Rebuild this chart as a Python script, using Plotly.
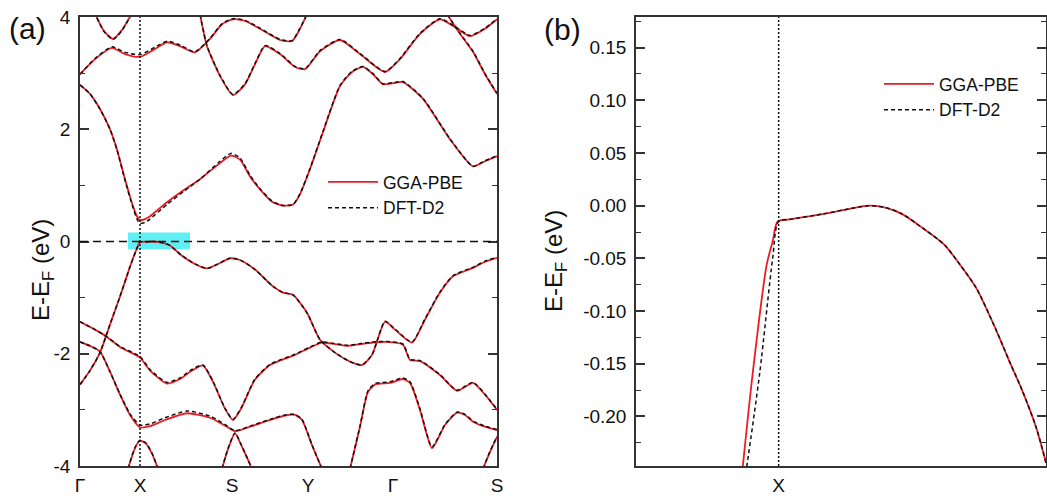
import plotly.graph_objects as go

W, H = 1047, 497

# ---------------- Panel (a): high-symmetry path ----------------
kpath_labels = ["Γ", "X", "S", "Y", "Γ", "S"]
kpath_pos = [0, 60, 152, 228, 313, 417]

yticks_a = [-4, -2, 0, 2, 4]
yticklabels_a = ["-4", "-2", "0", "2", "4"]

# highlighted window around the VBM (zoomed in panel b)
highlight_k = [48, 110]
highlight_E = [-0.14, 0.16]

# conduction bands (k along path, energies in eV)
k_c1 = [14, 24, 33, 42, 53]
pbe_c1 = [4.10, 3.75, 3.61, 3.77, 4.10]
d2_c1 = [4.10, 3.74, 3.60, 3.76, 4.10]

k_c2 = [0, 15, 32, 45, 60, 75, 87, 100, 115, 130, 142, 153, 165, 180, 200, 212, 220, 227]
pbe_c2 = [2.98, 3.25, 3.45, 3.34, 3.29, 3.43, 3.55, 3.48, 3.37, 3.61, 3.87, 3.96, 3.93, 3.79, 3.59, 3.57, 3.79, 4.05]
d2_c2 = [2.98, 3.26, 3.47, 3.37, 3.33, 3.46, 3.57, 3.50, 3.38, 3.62, 3.88, 3.97, 3.94, 3.80, 3.60, 3.58, 3.80, 4.05]

k_c3 = [120, 127, 140, 153, 165, 175, 185, 200, 215, 225, 240, 260, 280, 305, 320, 340, 360, 375, 390, 405, 417]
pbe_c3 = [4.05, 3.48, 2.95, 2.61, 2.80, 3.16, 3.48, 3.34, 3.11, 3.07, 3.39, 3.59, 3.34, 3.02, 3.25, 3.70, 3.96, 3.82, 3.66, 3.79, 3.96]
d2_c3 = [4.05, 3.49, 2.96, 2.62, 2.81, 3.17, 3.49, 3.35, 3.12, 3.08, 3.40, 3.60, 3.35, 3.03, 3.26, 3.71, 3.97, 3.83, 3.67, 3.80, 3.97]

k_c4 = [367, 380, 393, 405, 417]
pbe_c4 = [4.05, 3.70, 3.38, 2.98, 2.63]
d2_c4 = [4.05, 3.71, 3.39, 2.99, 2.64]

k_c5 = [0, 10, 20, 30, 37, 45, 53, 57, 60, 65, 70, 87, 105, 120, 140, 151, 160, 170, 180, 192, 203, 213,
        220, 230, 243, 260, 272, 283, 293, 303, 313, 323, 343, 370, 393, 405, 417]
pbe_c5 = [2.79, 2.63, 2.36, 2.00, 1.64, 1.11, 0.63, 0.45, 0.38, 0.40, 0.45, 0.70, 0.93, 1.11, 1.40, 1.53, 1.46, 1.16, 0.93, 0.71, 0.64, 0.66,
          0.84, 1.29, 1.95, 2.77, 3.02, 3.11, 2.98, 2.80, 2.82, 2.84, 2.54, 1.82, 1.34, 1.43, 1.52]
d2_c5 = [2.79, 2.63, 2.36, 2.00, 1.63, 1.09, 0.60, 0.40, 0.32, 0.34, 0.40, 0.66, 0.91, 1.11, 1.43, 1.57, 1.49, 1.18, 0.94, 0.72, 0.64, 0.66,
         0.85, 1.30, 1.96, 2.78, 3.03, 3.12, 2.99, 2.81, 2.83, 2.85, 2.55, 1.83, 1.34, 1.44, 1.53]

# valence bands
k_v1 = [0, 10, 20, 30, 40, 50, 56, 60, 67, 74, 83, 90, 101, 115, 127, 138, 150, 160, 175, 193, 203, 213,
        227, 240, 255, 270, 282, 292, 305, 315, 332, 345, 360, 373, 393, 405, 417]
pbe_v1 = [-2.55, -2.30, -1.98, -1.48, -0.98, -0.45, -0.16, -0.01, -0.005, 0.0, -0.025, -0.07, -0.24, -0.40, -0.48, -0.40, -0.30, -0.33, -0.50, -0.80, -0.91, -0.95,
          -1.27, -1.75, -1.98, -2.14, -2.20, -2.02, -1.43, -1.57, -1.80, -1.39, -0.91, -0.62, -0.47, -0.36, -0.29]
d2_v1 = [-2.55, -2.30, -1.98, -1.48, -0.98, -0.45, -0.17, -0.01, -0.005, 0.0, -0.025, -0.07, -0.24, -0.40, -0.48, -0.40, -0.30, -0.33, -0.50, -0.80, -0.91, -0.95,
         -1.27, -1.75, -1.98, -2.14, -2.20, -2.02, -1.42, -1.56, -1.79, -1.38, -0.90, -0.61, -0.46, -0.35, -0.28]

k_v2 = [0, 15, 27, 40, 60, 70, 87, 100, 112, 123, 133, 145, 153, 161, 175, 190, 215, 230, 242, 255, 268, 280, 293,
        307, 323, 330, 340, 360, 377, 393, 405, 417]
pbe_v2 = [-1.43, -1.57, -1.70, -1.88, -2.07, -2.30, -2.53, -2.45, -2.30, -2.21, -2.50, -2.98, -3.18, -2.98, -2.46, -2.20, -2.02, -1.89,
          -1.80, -1.83, -1.86, -1.83, -1.80, -1.79, -1.84, -2.11, -2.13, -2.38, -2.66, -2.52, -2.73, -3.00]
d2_v2 = [-1.43, -1.57, -1.70, -1.87, -2.05, -2.28, -2.51, -2.43, -2.28, -2.20, -2.49, -2.97, -3.17, -2.97, -2.45, -2.19, -2.01, -1.88,
         -1.79, -1.82, -1.85, -1.82, -1.79, -1.78, -1.83, -2.10, -2.12, -2.37, -2.65, -2.51, -2.72, -2.99]

k_v3 = [0, 10, 20, 30, 40, 50, 60, 70, 85, 107, 130, 145, 155, 170, 190, 205, 215, 222, 232, 242]
pbe_v3 = [-1.79, -1.86, -1.96, -2.32, -2.73, -3.09, -3.31, -3.29, -3.18, -3.06, -3.14, -3.28, -3.38, -3.30, -3.18, -3.10, -3.09, -3.18, -3.63, -4.05]
d2_v3 = [-1.79, -1.86, -1.96, -2.32, -2.72, -3.07, -3.27, -3.25, -3.14, -3.02, -3.11, -3.26, -3.37, -3.29, -3.17, -3.09, -3.08, -3.17, -3.62, -4.05]

k_v4 = [48, 55, 60, 66, 72, 78]
pbe_v4 = [-4.05, -3.68, -3.55, -3.60, -3.78, -4.05]
d2_v4 = [-4.05, -3.67, -3.54, -3.59, -3.77, -4.05]

k_v5 = [142, 148, 155, 161, 172]
pbe_v5 = [-4.05, -3.70, -3.42, -3.62, -4.05]
d2_v5 = [-4.05, -3.69, -3.41, -3.61, -4.05]

k_v6 = [270, 280, 288, 295, 310, 323, 330, 340, 352, 365, 377, 385, 393, 405, 417]
pbe_v6 = [-4.05, -3.30, -2.68, -2.55, -2.52, -2.45, -2.52, -3.00, -3.68, -3.27, -3.05, -3.09, -3.21, -3.30, -3.36]
d2_v6 = [-4.05, -3.29, -2.66, -2.53, -2.50, -2.43, -2.50, -2.98, -3.66, -3.26, -3.04, -3.08, -3.20, -3.29, -3.35]

k_v7 = [403, 410, 417]
pbe_v7 = [-4.05, -3.75, -3.48]
d2_v7 = [-4.05, -3.74, -3.47]

# ---------------- Panel (b): zoom around X ----------------
kb_X = 143
kb_range = [0, 411]
yticks_b = [-0.20, -0.15, -0.10, -0.05, 0.00, 0.05, 0.10, 0.15]
yticklabels_b = ["-0.20", "-0.15", "-0.10", "-0.05", "0.00", "0.05", "0.10", "0.15"]

kb_pbe = [107, 117, 131, 137, 142, 154, 187, 214, 234, 251, 267, 287, 309, 324, 341, 361, 374, 387, 401, 411]
eb_pbe = [-0.248, -0.159, -0.056, -0.034, -0.015, -0.013, -0.008, -0.003, 0.0, -0.002, -0.008, -0.021,
          -0.037, -0.055, -0.078, -0.118, -0.147, -0.175, -0.210, -0.244]
kb_d2 = [111, 124, 137, 143, 154, 187, 214, 234, 251, 267, 287, 309, 324, 341, 361, 374, 387, 401, 411]
eb_d2 = [-0.248, -0.159, -0.050, -0.015, -0.013, -0.008, -0.003, 0.0, -0.002, -0.008, -0.021,
         -0.037, -0.055, -0.078, -0.118, -0.147, -0.175, -0.210, -0.244]

bands_a = [
    (k_c1, pbe_c1, d2_c1), (k_c2, pbe_c2, d2_c2), (k_c3, pbe_c3, d2_c3), (k_c4, pbe_c4, d2_c4),
    (k_c5, pbe_c5, d2_c5), (k_v1, pbe_v1, d2_v1), (k_v2, pbe_v2, d2_v2), (k_v3, pbe_v3, d2_v3),
    (k_v4, pbe_v4, d2_v4), (k_v5, pbe_v5, d2_v5), (k_v6, pbe_v6, d2_v6), (k_v7, pbe_v7, d2_v7),
]


def joined(bands, which):
    xs, ys = [], []
    for b in bands:
        xs += list(b[0]) + [None]
        ys += list(b[which]) + [None]
    return xs, ys


FONT = "Arial, 'Liberation Sans', sans-serif"
RED = "#ec1c24"
BLK = "#111111"
AX = "#333333"

fig = go.Figure()

xa, ya_pbe = joined(bands_a, 1)
_, ya_d2 = joined(bands_a, 2)

fig.add_trace(go.Scatter(x=xa, y=ya_pbe, mode="lines", name="GGA-PBE", legend="legend",
                         line=dict(color=RED, width=1.8, shape="spline", smoothing=0.6),
                         xaxis="x", yaxis="y", connectgaps=False))
fig.add_trace(go.Scatter(x=xa, y=ya_d2, mode="lines", name="DFT-D2", legend="legend",
                         line=dict(color=BLK, width=1.5, dash="4px,3px", shape="spline", smoothing=0.6),
                         xaxis="x", yaxis="y", connectgaps=False))
fig.add_trace(go.Scatter(x=kb_pbe, y=eb_pbe, mode="lines", name="GGA-PBE", legend="legend2",
                         line=dict(color=RED, width=1.8, shape="spline", smoothing=0.8),
                         xaxis="x2", yaxis="y2"))
fig.add_trace(go.Scatter(x=kb_d2, y=eb_d2, mode="lines", name="DFT-D2", legend="legend2",
                         line=dict(color=BLK, width=1.5, dash="4px,3px", shape="spline", smoothing=0.8),
                         xaxis="x2", yaxis="y2"))

ydom = [1 - 466 / H, 1 - 17 / H]

common_axis = dict(showline=True, linecolor=AX, linewidth=1.5, showgrid=False, zeroline=False,
                   tickfont=dict(size=19, family=FONT, color="#111"))

fig.update_layout(
    width=W, height=H,
    margin=dict(l=0, r=0, t=0, b=0),
    paper_bgcolor="white", plot_bgcolor="white",
    font=dict(family=FONT, color="#111"),
    xaxis=dict(domain=[80 / W, 497 / W], range=[0, 417], tickmode="array", tickvals=kpath_pos,
               ticktext=kpath_labels, ticks="", mirror=True, anchor="y", ticklabelstandoff=1,
               automargin=False, **common_axis),
    yaxis=dict(domain=ydom, range=[-4, 4], tickmode="array", tickvals=yticks_a, ticktext=yticklabels_a,
               ticks="inside", ticklen=9, tickwidth=1.5, tickcolor=AX, mirror="ticks", anchor="x",
               minor=dict(dtick=1, tick0=0, ticks="inside", ticklen=5, tickwidth=1.2, tickcolor=AX),
               ticklabelstandoff=4, automargin=False, **common_axis),
    xaxis2=dict(domain=[636 / W, 1046 / W], range=kb_range, tickmode="array", tickvals=[kb_X],
                ticktext=["X"], ticks="", mirror=True, anchor="y2", ticklabelstandoff=1,
                automargin=False, **common_axis),
    yaxis2=dict(domain=ydom, range=[-0.247, 0.179], tickmode="array", tickvals=yticks_b,
                ticktext=yticklabels_b, ticks="inside", ticklen=9, tickwidth=1.5, tickcolor=AX,
                mirror="ticks", anchor="x2",
                minor=dict(dtick=0.025, tick0=0, ticks="inside", ticklen=5, tickwidth=1.2, tickcolor=AX),
                ticklabelstandoff=4, automargin=False, **common_axis),
    legend=dict(x=323 / W, y=1 - 164 / H, xanchor="left", yanchor="top", bgcolor="rgba(0,0,0,0)",
                font=dict(size=17.5, family=FONT, color="#111"), tracegroupgap=2, itemwidth=50),
    legend2=dict(x=879 / W, y=1 - 66 / H, xanchor="left", yanchor="top", bgcolor="rgba(0,0,0,0)",
                 font=dict(size=17.5, family=FONT, color="#111"), tracegroupgap=2, itemwidth=50),
    showlegend=True,
)

fig.add_shape(type="rect", xref="x", yref="y", x0=highlight_k[0], x1=highlight_k[1],
              y0=highlight_E[0], y1=highlight_E[1], fillcolor="rgba(40,235,240,0.75)",
              line=dict(width=0), layer="below")
fig.add_shape(type="line", xref="x", yref="y domain", x0=kpath_pos[1], x1=kpath_pos[1], y0=0, y1=1,
              line=dict(color=BLK, width=1.5, dash="2px,2px"))
fig.add_shape(type="line", xref="x domain", yref="y", x0=0, x1=1, y0=0, y1=0,
              line=dict(color=BLK, width=1.5, dash="8px,5px"))
fig.add_shape(type="line", xref="x2", yref="y2 domain", x0=kb_X, x1=kb_X, y0=0, y1=1,
              line=dict(color=BLK, width=1.5, dash="2px,2px"))

title_txt = "E-E<sub>F</sub> (eV)"
fig.add_annotation(text=title_txt, xref="paper", yref="paper", x=42 / W, y=1 - 270 / H, textangle=-90,
                   showarrow=False, xanchor="center", yanchor="middle", font=dict(size=24, family=FONT))
fig.add_annotation(text=title_txt, xref="paper", yref="paper", x=555 / W, y=1 - 261 / H, textangle=-90,
                   showarrow=False, xanchor="center", yanchor="middle", font=dict(size=24, family=FONT))
fig.add_annotation(text="(a)", xref="paper", yref="paper", x=27 / W, y=1 - 28 / H, showarrow=False,
                   xanchor="center", yanchor="middle", font=dict(size=30, family=FONT))
fig.add_annotation(text="(b)", xref="paper", yref="paper", x=562 / W, y=1 - 30 / H, showarrow=False,
                   xanchor="center", yanchor="middle", font=dict(size=30, family=FONT))

fig.write_html("out.html", config={"displayModeBar": False},
               post_script="document.body.style.margin='0';document.body.style.overflow='hidden';")
